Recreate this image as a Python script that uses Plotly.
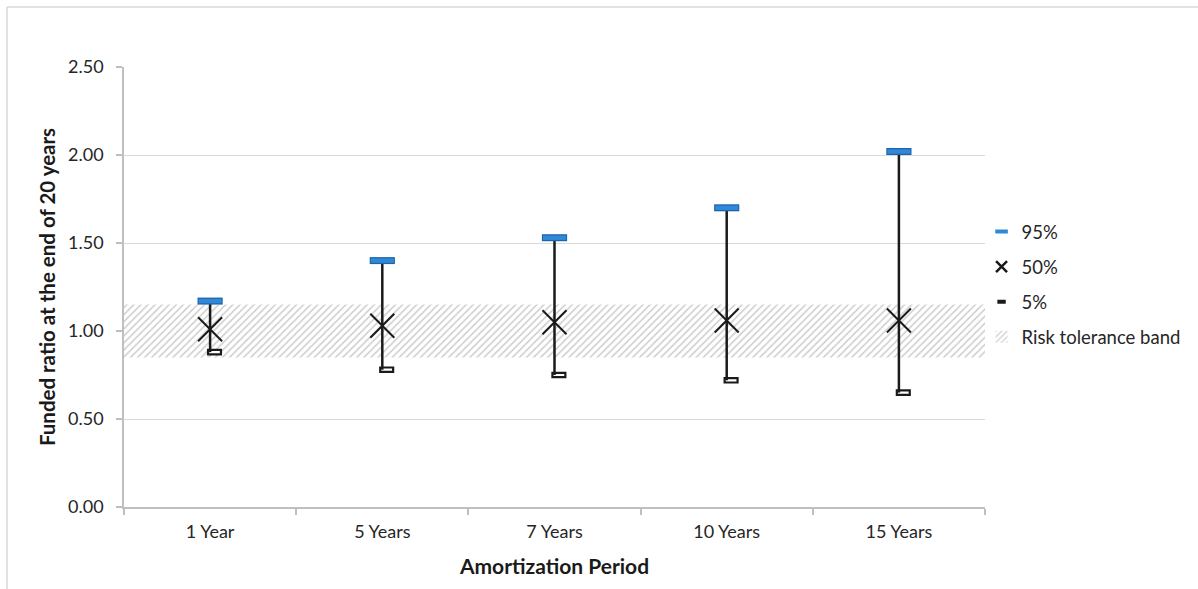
import plotly.graph_objects as go

# Funded-ratio percentiles after 20 years, by amortization period
periods = ["1 Year", "5 Years", "7 Years", "10 Years", "15 Years"]
p95 = [1.17, 1.40, 1.53, 1.70, 2.02]
p50 = [1.01, 1.03, 1.05, 1.06, 1.06]
p5 = [0.88, 0.78, 0.75, 0.72, 0.65]

# risk tolerance band limits
band_low = 0.85
band_high = 1.15

y_ticks = [0.0, 0.5, 1.0, 1.5, 2.0, 2.5]

xpos = list(range(len(periods)))
FONT = "Lato"
GRID = "#d9d9d9"
AXIS = "#bfbfbf"
INK = "#1a1a1a"

fig = go.Figure()

# hatched band across the full category range
fig.add_trace(go.Bar(
    x=[(len(periods) - 1) / 2], y=[band_high - band_low], base=[band_low],
    width=[len(periods)], name="Risk tolerance band",
    marker=dict(color="white", line=dict(width=0),
                pattern=dict(shape="/", fgcolor="#9c9c9c", bgcolor="white",
                             size=5, solidity=0.3)),
    legendgroup="band", legendrank=4, hoverinfo="skip",
))

# 5% close-style tick on the right of each high-low line
fig.add_trace(go.Bar(
    x=xpos, y=[0.025] * len(p5), base=[v - 0.0125 for v in p5],
    width=0.075, offset=-0.012, name="5%", showlegend=False,
    marker=dict(color="white", line=dict(color=INK, width=2.2)),
))

# median markers with the high-low line (5% to 95%) as error bars
fig.add_trace(go.Scatter(
    x=xpos, y=p50, mode="markers", name="50%", showlegend=False,
    marker=dict(symbol="x-thin-open", size=24, color=INK,
                line=dict(color=INK, width=2)),
    error_y=dict(type="data", symmetric=False,
                 array=[h - m for h, m in zip(p95, p50)],
                 arrayminus=[m - l for m, l in zip(p50, p5)],
                 color=INK, thickness=2.5, width=0),
))

# 95% dash: dark outline with a lighter blue fill
fig.add_trace(go.Scatter(
    x=xpos, y=p95, mode="markers", showlegend=False, hoverinfo="skip",
    marker=dict(symbol="line-ew", size=18, line=dict(color="#1f63a8", width=7)),
))
fig.add_trace(go.Scatter(
    x=xpos, y=p95, mode="markers", name="95%", showlegend=False,
    marker=dict(symbol="line-ew", size=16.5, line=dict(color="#2f88d8", width=4.5)),
))

# legend entries
fig.add_trace(go.Scatter(
    x=[None], y=[None], mode="markers", name="95%",
    marker=dict(symbol="line-ew", size=9, line=dict(color="#2f88d8", width=4)),
    legendgroup="p95", legendrank=1,
))
fig.add_trace(go.Scatter(
    x=[None], y=[None], mode="markers", name="50%",
    marker=dict(symbol="x-thin-open", size=11, color=INK, line=dict(color=INK, width=2.5)),
    legendgroup="p50", legendrank=2,
))
fig.add_trace(go.Scatter(
    x=[None], y=[None], mode="markers", name="5%",
    marker=dict(symbol="line-ew", size=6, line=dict(color=INK, width=4)),
    legendgroup="p5", legendrank=3,
))

fig.update_layout(
    width=1198, height=589,
    margin=dict(l=124, r=213, t=67, b=82),
    paper_bgcolor="white", plot_bgcolor="white",
    barmode="overlay",
    font=dict(family=FONT, size=18, color="#262626"),
    showlegend=True,
    legend=dict(x=0.996, y=0.668, xanchor="left", yanchor="top",
                font=dict(size=18.5, color="#262626"),
                tracegroupgap=8, itemsizing="trace",
                bgcolor="rgba(0,0,0,0)"),
    xaxis=dict(
        range=[-0.5, len(periods) - 0.5],
        tickmode="array", tickvals=xpos, ticktext=periods,
        ticks="", showgrid=False, zeroline=False,
        showline=True, linecolor=AXIS, linewidth=1.5,
        tickfont=dict(size=18, color="#262626"),
        ticklabelstandoff=8,
        minor=dict(tickmode="linear", tick0=-0.5, dtick=1, ticks="outside",
                   ticklen=6, tickcolor=AXIS, tickwidth=1.5, showgrid=False),
        title=dict(text="<b>Amortization Period</b>", font=dict(size=21, color=INK),
                   standoff=18),
        fixedrange=True,
    ),
    yaxis=dict(
        range=[0, 2.5], tickmode="array", tickvals=y_ticks,
        ticktext=[f"{v:.2f}" for v in y_ticks],
        ticks="outside", ticklen=6, tickcolor=AXIS, tickwidth=1.5,
        showgrid=True, gridcolor=GRID, gridwidth=1.2, zeroline=False,
        showline=True, linecolor=AXIS, linewidth=1.5,
        tickfont=dict(size=18, color="#262626"),
        ticklabelstandoff=9,
        title=dict(text="<b>Funded ratio at the end of 20 years</b>",
                   font=dict(size=20.5, color=INK), standoff=7),
        fixedrange=True,
    ),
    shapes=[
        # outer chart frame (top and left edges)
        dict(type="line", xref="paper", yref="paper",
             x0=(7 - 124) / 861, x1=(1198 - 124) / 861,
             y0=(589 - 82 - 7) / 440, y1=(589 - 82 - 7) / 440,
             line=dict(color="#d9d9d9", width=1.5)),
        dict(type="line", xref="paper", yref="paper",
             x0=(7 - 124) / 861, x1=(7 - 124) / 861,
             y0=(589 - 82 - 7) / 440, y1=-82 / 440,
             line=dict(color="#d9d9d9", width=1.5)),
    ],
)

fig.write_html("out.html")
